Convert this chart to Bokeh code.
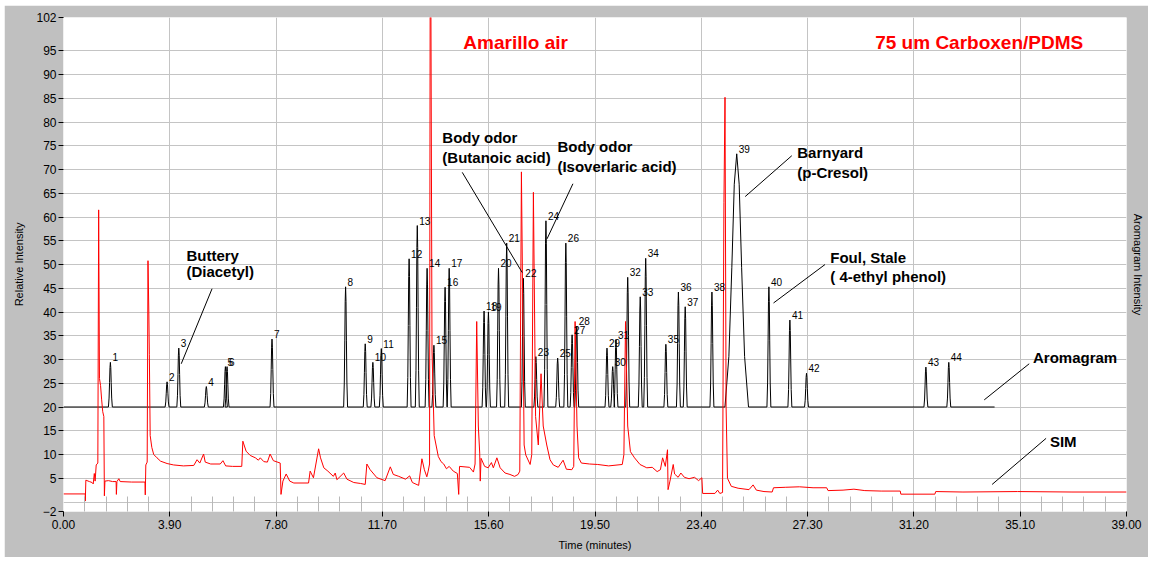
from bokeh.plotting import figure
from bokeh.models import Range1d, FixedTicker, LinearAxis, NumeralTickFormatter, Spacer
from bokeh.layouts import column, row
from bokeh.core.properties import value
from bokeh.embed import file_html
from bokeh.resources import INLINE

# ---------------- data ----------------
# SIM trace (red): time (min), relative intensity
sim_t = [0.00, 0.80, 0.80, 0.82, 0.95, 1.05, 1.09, 1.13, 1.16, 1.20, 1.26, 1.29, 1.32, 1.36, 1.40, 1.44, 1.48, 1.50, 1.52,
         1.65, 1.80, 1.93, 1.94, 1.96, 2.03, 2.08, 2.50, 2.99, 3.00, 3.02, 3.07, 3.10, 3.13, 3.15, 3.18, 3.24, 3.31, 3.43,
         3.56, 3.80, 4.04, 4.40, 4.78, 4.90, 5.00, 5.14, 5.20, 5.40, 5.75, 5.85, 5.95, 6.20, 6.54, 6.58, 6.70, 6.85, 7.04,
         7.15, 7.22, 7.35, 7.48, 7.58, 7.70, 7.95, 7.98, 8.05, 8.17, 8.30, 8.45, 8.99, 9.05, 9.17, 9.36, 9.43, 9.55, 9.70,
         9.90, 9.97, 10.03, 10.28, 10.40, 10.65, 10.90, 11.07, 11.13, 11.25, 11.50, 11.80, 11.99, 12.10, 12.30, 12.55,
         12.70, 12.80, 13.03, 13.15, 13.24, 13.33, 13.38, 13.43, 13.46, 13.52, 13.60, 13.75, 13.85, 13.95, 14.05, 14.15,
         14.30, 14.45, 14.50, 14.53, 14.90, 15.04, 15.10, 15.16, 15.22, 15.27, 15.29, 15.32, 15.45, 15.58, 15.70, 15.77,
         15.90, 16.02, 16.20, 16.38, 16.55, 16.68, 16.74, 16.80, 16.90, 16.96, 17.12, 17.18, 17.24, 17.32, 17.42, 17.52,
         17.60, 17.73, 17.85, 17.97, 18.15, 18.33, 18.45, 18.65, 18.72, 18.77, 18.84, 18.90, 19.00, 19.30, 19.60, 20.00,
         20.50, 20.56, 20.62, 20.70, 20.80, 20.95, 21.15, 21.40, 21.60, 21.78, 21.90, 21.98, 22.08, 22.16, 22.18, 22.25,
         22.37, 22.42, 22.55, 22.65, 22.78, 22.95, 23.15, 23.30, 23.42, 23.45, 23.90, 24.00, 24.08, 24.18, 24.23, 24.27,
         24.31, 24.36, 24.50, 24.75, 25.15, 25.30, 25.42, 25.70, 26.00, 26.05, 26.50, 27.00, 27.50, 28.00, 28.05, 28.60,
         29.00, 29.40, 30.00, 30.70, 30.72, 31.97, 32.00, 33.00, 35.00, 37.00, 39.00]
sim_v = [1.7, 1.7, 0.2, 4.6, 4.3, 4.1, 3.8, 6.0, 4.4, 7.8, 8.2, 61.5, 26.0, 24.5, 21.5, 19.0, 18.0, 1.3, 4.4,
         4.5, 4.3, 4.3, 1.6, 4.3, 4.9, 4.3, 4.2, 4.2, 1.5, 7.8, 8.4, 50.8, 40.0, 31.0, 14.0, 11.5, 10.0, 9.3,
         8.6, 8.1, 7.8, 7.6, 7.7, 8.9, 8.2, 10.1, 8.4, 8.0, 8.0, 8.7, 7.6, 7.5, 7.5, 12.8, 10.7, 9.8, 9.3,
         8.8, 9.3, 8.5, 8.4, 10.1, 8.7, 8.2, 1.6, 4.4, 5.9, 4.4, 4.0, 4.0, 6.5, 5.1, 11.2, 9.3, 7.2, 6.5,
         5.4, 6.1, 4.7, 6.1, 4.8, 4.1, 3.9, 3.7, 8.0, 6.8, 5.1, 4.5, 7.4, 5.8, 5.4, 4.8,
         5.5, 4.1, 3.5, 9.1, 6.8, 5.3, 6.5, 8.0, 140.0, 32.0, 14.0, 9.6, 8.5, 8.0, 7.0, 7.5,
         6.5, 6.0, 1.6, 7.5, 7.3, 6.3, 8.0, 38.0, 16.0, 10.3, 4.4, 9.2, 7.5, 7.2, 8.3, 7.2,
         9.3, 7.2, 6.1, 5.8, 5.4, 5.8, 6.5, 69.5, 12.0, 9.9, 7.9, 10.0, 65.2, 18.0, 12.0, 27.0,
         16.0, 12.0, 8.9, 7.8, 7.3, 8.8, 6.9, 6.8, 7.5, 38.0, 16.0, 9.3, 8.2, 8.0, 7.9, 7.6,
         7.9, 10.0, 38.0, 16.0, 10.6, 9.3, 7.9, 7.2, 7.3, 6.4, 6.8, 9.3, 7.5, 11.0, 2.6, 4.4,
         7.9, 5.9, 5.2, 6.1, 5.2, 4.9, 5.2, 4.5, 5.1, 1.8, 1.8, 2.5, 1.8, 2.0, 63.0, 85.2,
         20.0, 5.0, 3.3, 2.9, 2.6, 3.6, 2.5, 2.2, 2.1, 3.0, 3.1, 3.2, 3.0, 3.0, 2.4, 2.5,
         2.7, 2.4, 2.3, 2.3, 1.65, 1.65, 2.2, 2.1, 2.2, 2.1, 2.1]

# Aromagram (black): numbered peaks on a baseline at 20
aroma_base = 20.0
aroma_end = 34.16
peak_id = [str(i) for i in range(1, 45)]
peak_t = [1.72, 3.80, 4.23, 5.24, 5.94, 6.00, 7.65, 10.35, 11.07, 11.35, 11.66, 12.68, 12.98, 13.34, 13.59,
          14.00, 14.15, 15.43, 15.59, 15.96, 16.26, 16.87, 17.33, 17.70, 18.13, 18.43, 18.66, 18.83, 19.94,
          20.15, 20.27, 20.70, 21.16, 21.36, 22.10, 22.56, 22.81, 23.79, 24.70, 25.88, 26.65, 27.26, 31.64, 32.48]
peak_h = [29.4, 25.3, 32.4, 24.3, 28.5, 28.5, 34.3, 45.3, 33.3, 29.4, 32.3, 51.2, 58.2, 49.2, 33.0,
          45.2, 49.2, 40.2, 40.0, 49.2, 54.5, 47.1, 30.6, 59.2, 30.3, 54.5, 35.2, 37.0, 32.4,
          28.5, 34.2, 47.3, 43.2, 51.3, 33.2, 44.2, 41.1, 44.2, 73.3, 45.3, 38.3, 27.1, 28.4, 29.4]
peak_w = [0.06] * 38 + [0.36] + [0.06] * 5

# annotations (data coordinates)
note_text = ["Buttery", "(Diacetyl)", "Body odor", "(Butanoic acid)", "Body odor", "(Isoverlaric acid)",
             "Barnyard", "(p-Cresol)", "Foul, Stale", "( 4-ethyl phenol)", "Aromagram", "SIM"]
note_x = [4.51, 4.51, 13.90, 13.90, 18.12, 18.12, 26.92, 26.92, 28.13, 28.13, 35.57, 36.19]
note_y = [51.9, 48.5, 76.7, 72.5, 74.8, 70.6, 73.6, 69.4, 51.5, 47.5, 30.4, 12.7]
lead_x0 = [5.45, 14.63, 18.69, 26.72, 27.94, 35.43, 36.05]
lead_y0 = [44.9, 69.4, 67.0, 72.9, 50.0, 29.1, 13.4]
lead_x1 = [4.32, 16.83, 17.74, 25.01, 26.05, 33.78, 34.07]
lead_y1 = [29.1, 48.3, 55.4, 64.3, 41.9, 21.5, 3.7]
title_text = ["Amarillo air", "75 um Carboxen/PDMS"]
title_x = [14.67, 29.78]
title_y = [96.7, 96.7]

x_ticks = [round(3.9 * i, 2) for i in range(11)]
x_minor = [round(0.78 * i, 2) for i in range(51) if i % 5]
y_ticks = [-2] + list(range(5, 100, 5)) + [102]
y_grid = list(range(0, 100, 5))

# -------- aromagram polyline built from the peak table --------
shape_dx = [-1.2, -0.8, -0.5, -0.25, 0.0, 0.25, 0.5, 0.8, 1.2]
shape_rel = [0.0, 0.2, 0.55, 0.88, 1.0, 0.88, 0.55, 0.2, 0.0]
ax_ = [0.0]
ay_ = [aroma_base]
for t, h, w in zip(peak_t, peak_h, peak_w):
    for dx, r in zip(shape_dx, shape_rel):
        ax_.append(t + dx * w)
        ay_.append(aroma_base + r * (h - aroma_base))
ax_.append(aroma_end)
ay_.append(aroma_base)

FONT = "Liberation Sans"

p = figure(width=1144, height=552, x_range=Range1d(0, 39), y_range=Range1d(-2, 102),
           output_backend="svg", toolbar_location=None,
           min_border_left=59, min_border_right=22, min_border_top=12, min_border_bottom=46,
           border_fill_color="#c0c0c0", background_fill_color="white", outline_line_color=None)

xax = p.xaxis[0]
xax.ticker = FixedTicker(ticks=x_ticks, minor_ticks=x_minor)
xax.formatter = NumeralTickFormatter(format="0.00")
xax.axis_label = "Time (minutes)"
yax = p.yaxis[0]
yax.ticker = FixedTicker(ticks=y_ticks)
yax.axis_label = "Relative Intensity"
for ax in (xax, yax):
    ax.axis_label_text_font = FONT
    ax.axis_label_text_font_size = "11px"
    ax.axis_label_text_font_style = "normal"
    ax.axis_label_text_color = "black"
    ax.major_label_text_font = FONT
    ax.major_label_text_font_size = "12px"
    ax.major_label_text_color = "black"
    ax.major_tick_in = 0
    ax.major_tick_out = 5
    ax.major_tick_line_color = "black"
    ax.axis_line_color = None
xax.major_label_standoff = 3
xax.axis_label_standoff = 7
xax.minor_tick_in = 15
xax.minor_tick_out = 0
xax.minor_tick_line_color = "#b8b8b8"
yax.major_label_standoff = 2
yax.axis_label_standoff = 8
yax.minor_tick_line_color = None

rax = LinearAxis(axis_label="Aromagram Intensity", ticker=FixedTicker(ticks=[]),
                 major_tick_line_color=None, minor_tick_line_color=None, axis_line_color=None,
                 major_label_text_font_size="0px", axis_label_standoff=5,
                 axis_label_text_font=FONT, axis_label_text_font_size="11px",
                 axis_label_text_font_style="normal", axis_label_text_color="black")
p.add_layout(rax, "right")

p.xgrid.ticker = FixedTicker(ticks=x_ticks[1:-1])
p.ygrid.ticker = FixedTicker(ticks=y_grid)
p.xgrid.grid_line_color = "#c4c4c4"
p.ygrid.grid_line_color = "#c4c4c4"

p.line(ax_, ay_, line_color="#000000", line_width=1.0)
p.line(sim_t, sim_v, line_color="#ff0000", line_width=1.0)

p.text(x=peak_t, y=peak_h, text=peak_id, text_font=value(FONT), text_font_size="10px",
       text_align="left", text_baseline="bottom", x_offset=2, y_offset=-1, text_color="black")
p.segment(x0=lead_x0, y0=lead_y0, x1=lead_x1, y1=lead_y1, line_color="black", line_width=1)
p.text(x=note_x, y=note_y, text=note_text, text_font=value(FONT), text_font_size="15px",
       text_font_style="bold", text_align="left", text_baseline="middle", text_color="black")
p.text(x=title_x, y=title_y, text=title_text, text_font=value(FONT), text_font_size="19px",
       text_font_style="bold", text_align="left", text_baseline="middle", text_color="#ff0000")

layout = column(Spacer(width=1148, height=5), row(Spacer(width=4, height=552), p))
open("out.html", "w").write(file_html(layout, INLINE))
